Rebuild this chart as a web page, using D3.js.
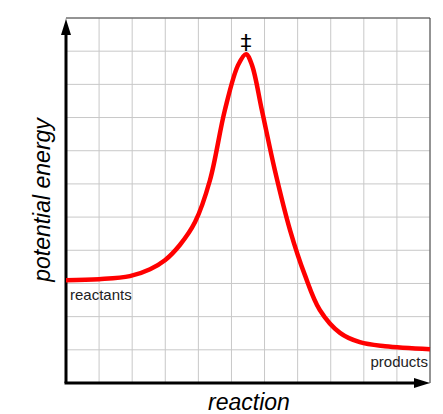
<!DOCTYPE html>
<html><head><meta charset="utf-8">
<script src="https://cdn.jsdelivr.net/npm/d3@7"></script>
<style>body{margin:0;background:#fff}</style></head>
<body><script>
const progress = [0, 1, 1.93, 2.54, 2.99, 3.44, 3.9, 4.35, 4.8, 5.2, 5.44, 5.62, 5.92, 6.31, 6.77, 7.22, 7.67, 8.28, 8.88, 9.64, 11];
const energy = [3.1, 3.13, 3.22, 3.43, 3.7, 4.16, 4.85, 6.11, 8.22, 9.58, 9.91, 9.58, 8.22, 6.42, 4.61, 3.25, 2.2, 1.51, 1.23, 1.11, 1.02];
const gridTicks = d3.range(0, 12);

const svg = d3.select("body").append("svg").attr("width", 443).attr("height", 414);
const x = d3.scaleLinear().domain([0, 11]).range([66, 430]);
const y = d3.scaleLinear().domain([0, 11]).range([383, 18]);

svg.append("g").selectAll("line.v").data(gridTicks).enter().append("line")
  .attr("x1", d => x(d)).attr("x2", d => x(d)).attr("y1", y(0)).attr("y2", y(11))
  .attr("stroke", "#c8c8c8").attr("stroke-width", 1);
svg.append("g").selectAll("line.h").data(gridTicks).enter().append("line")
  .attr("x1", x(0)).attr("x2", x(11)).attr("y1", d => y(d)).attr("y2", d => y(d))
  .attr("stroke", "#c8c8c8").attr("stroke-width", 1);
// box edge top and right
svg.append("path").attr("d", `M${x(0)},${y(11)}H${x(11)}V${y(0)}`)
  .attr("fill", "none").attr("stroke", "#444").attr("stroke-width", 1);

// axes with arrows
svg.append("line").attr("x1", x(0)).attr("y1", y(0)).attr("x2", x(0)).attr("y2", 30)
  .attr("stroke", "#000").attr("stroke-width", 3);
svg.append("path").attr("d", `M${x(0)},19 L${x(0) - 5},35 L${x(0) + 5},35Z`).attr("fill", "#000");
svg.append("line").attr("x1", x(0) - 1.5).attr("y1", y(0)).attr("x2", 418).attr("y2", y(0))
  .attr("stroke", "#000").attr("stroke-width", 3);
svg.append("path").attr("d", `M430,${y(0)} L414,${y(0) - 5} L414,${y(0) + 5}Z`).attr("fill", "#000");

const pts = progress.map((p, i) => [p, energy[i]]);
svg.append("path").datum(pts)
  .attr("d", d3.line().x(d => x(d[0])).y(d => y(d[1])).curve(d3.curveCatmullRom.alpha(0.5)))
  .attr("fill", "none").attr("stroke", "#ff0000").attr("stroke-width", 4.5);

svg.append("text").attr("x", 246).attr("y", 50).attr("text-anchor", "middle")
  .attr("font-family", "DejaVu Sans").attr("font-size", 22).text("‡");
svg.append("text").attr("x", 70).attr("y", 300)
  .attr("font-family", "Liberation Sans").attr("font-size", 15).attr("fill", "#222").text("reactants");
svg.append("text").attr("x", 428).attr("y", 367).attr("text-anchor", "end")
  .attr("font-family", "Liberation Sans").attr("font-size", 15).attr("fill", "#222").text("products");
svg.append("text").attr("x", 249).attr("y", 410).attr("text-anchor", "middle")
  .attr("font-family", "Liberation Sans").attr("font-style", "italic").attr("font-size", 23).text("reaction");
svg.append("text").attr("transform", "translate(50,200) rotate(-90)").attr("text-anchor", "middle")
  .attr("font-family", "Liberation Sans").attr("font-style", "italic").attr("font-size", 23).text("potential energy");
</script></body></html>
